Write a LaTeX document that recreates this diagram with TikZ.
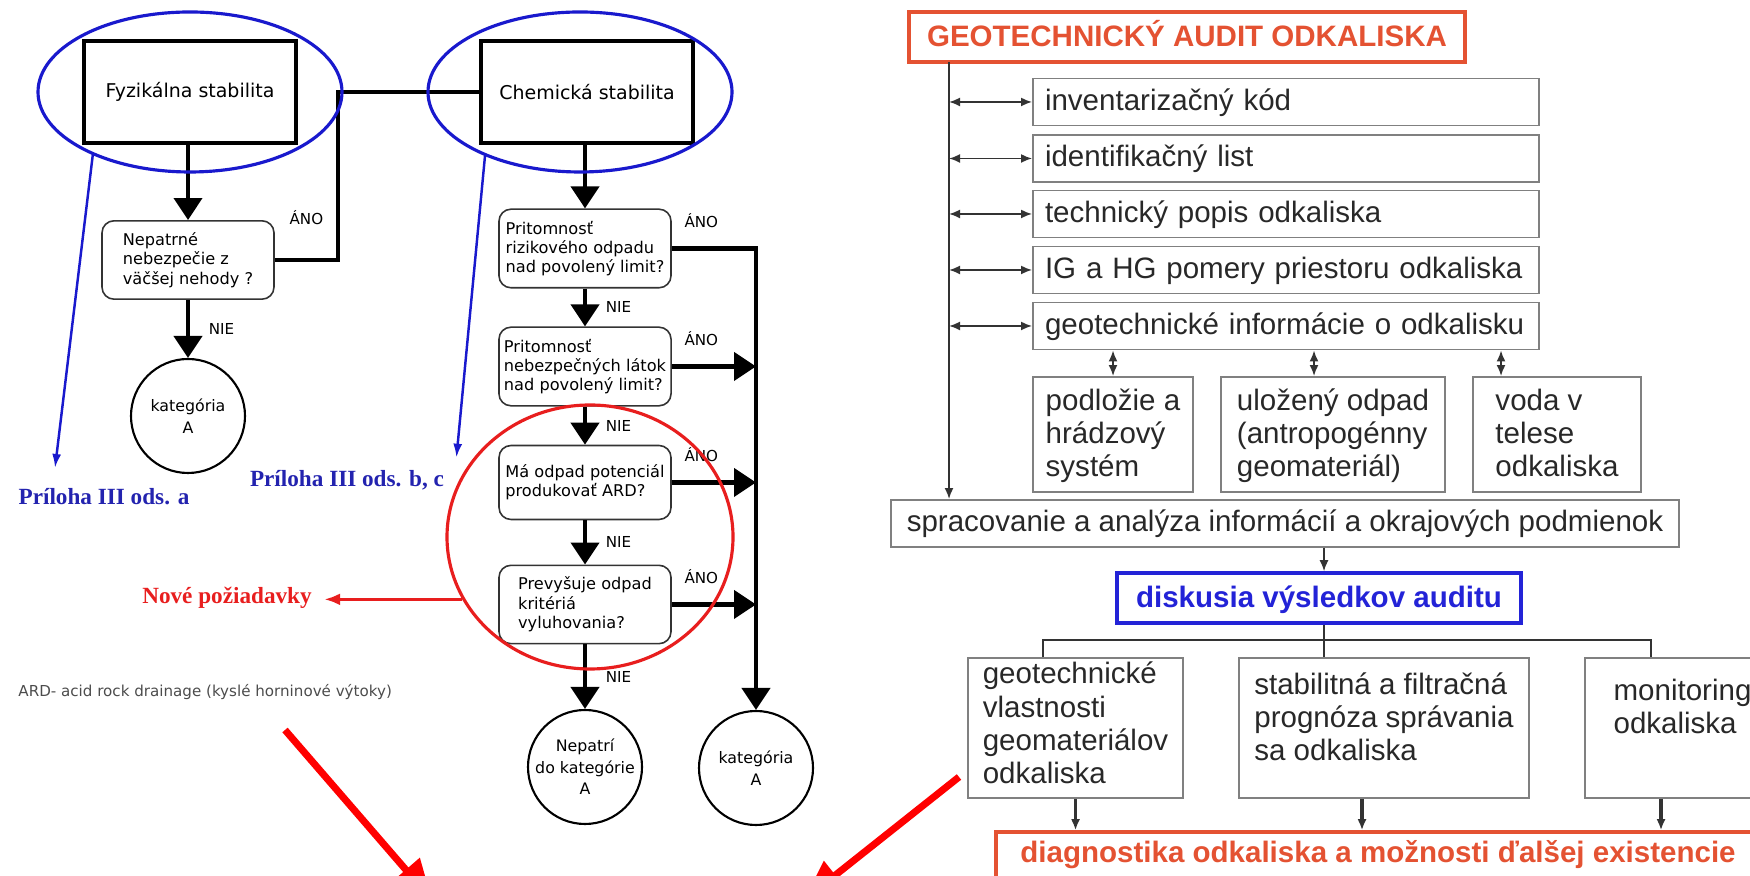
\documentclass[tikz,border=0pt]{standalone}
\usepackage{fontspec}
\setmainfont{DejaVu Sans}
\newfontfamily\auditfont{Liberation Sans}
\newfontfamily\notefont{Liberation Serif}
\usetikzlibrary{shapes,arrows.meta}

\definecolor{ovalblue}{RGB}{25,25,205}
\definecolor{noteblue}{RGB}{35,35,175}
\definecolor{auditred}{RGB}{228,82,50}
\definecolor{diskblue}{RGB}{35,35,215}
\definecolor{boxgray}{RGB}{128,128,128}
\definecolor{textgray}{RGB}{40,40,40}
\definecolor{flagred}{RGB}{232,30,30}

\begin{document}
\begin{tikzpicture}[
  stab/.style={draw, line width=1.4pt, minimum width=2.12cm, minimum height=1.02cm,
    font=\fontsize{5.4}{6.2}\selectfont},
  ask/.style={draw=black!80, line width=0.45pt, rounded corners=0.12cm, align=left,
    minimum width=1.72cm, minimum height=0.74cm, inner xsep=0.05cm,
    font=\fontsize{4.6}{5.5}\selectfont},
  kat/.style={circle, draw, line width=0.6pt, minimum size=1.14cm, inner sep=-0.06cm,
    align=center, font=\fontsize{4.5}{6.1}\selectfont},
  flow/.style={line width=1.2pt, >={Triangle[width=0.28cm,length=0.22cm]}},
  yesno/.style={font=\fontsize{4.3}{5}\selectfont},
  oval/.style={ellipse, draw=ovalblue, line width=0.9pt, minimum width=3.04cm,
    minimum height=1.60cm, inner sep=0pt},
  notelabel/.style={text=noteblue, font=\notefont\bfseries\fontsize{6.6}{7.5}\selectfont},
  pointer/.style={draw=ovalblue, line width=0.7pt, >={Latex[length=0.14cm,width=0.09cm]}},
  bigred/.style={draw=red, line width=2pt, >={Triangle[width=0.35cm,length=0.4cm]}},
  audit/.style={draw=boxgray, line width=0.55pt, text=textgray, inner ysep=0pt,
    font=\auditfont\fontsize{8.4}{9.5}\selectfont},
  itembox/.style={audit, text width=4.82cm, align=left, inner xsep=0.12cm,
    text height=0.32cm, text depth=0.15cm},
  subbox/.style={audit, align=left, text height=1.00cm, text depth=0.15cm},
  titlebox/.style={draw=auditred, line width=1pt, text=auditred, inner ysep=0pt,
    font=\auditfont\bfseries\fontsize{8.4}{9.5}\selectfont,
    text height=0.35cm, text depth=0.15cm},
  link/.style={black!80, line width=0.5pt, >={Latex[length=0.11cm,width=0.09cm]}}
]
\useasboundingbox (0,0) rectangle (17.5,-8.76);

% left: classification chart
\node (FYZ) [stab] at (1.90,-0.92) {Fyzikálna stabilita};
\node (CHEM) [stab] at (5.87,-0.92) {Chemická stabilita};
\node (NEP) [ask] at (1.88,-2.60) {Nepatrné\\nebezpečie z\\väčšej nehody ?};
\node (KATA) [kat] at (1.88,-4.16) {kategória\\A};
\node (RIZ) [ask] at (5.85,-2.485) {Pritomnosť\\rizikového odpadu\\nad povolený limit?};
\node (NEB) [ask] at (5.85,-3.665) {Pritomnosť\\nebezpečných látok\\nad povolený limit?};
\node (POT) [ask] at (5.85,-4.825) {Má odpad potenciál\\produkovať ARD?};
\node (PREV) [ask] at (5.85,-6.045) {Prevyšuje odpad\\kritériá\\vyluhovania?};
\node (NEPAT) [kat] at (5.85,-7.67) {Nepatrí\\do kategórie\\A};
\node (KATB) [kat] at (7.56,-7.68) {kategória\\A};
\coordinate (JOIN) at (3.38,-0.92);
\draw [flow,->] (NEP |- FYZ.south) to (NEP);
\draw [flow,->] (NEP) to node[yesno,right=2pt]{NIE} (KATA);
\draw [flow] (NEP.east) -- node[yesno,above=6pt]{ÁNO} (NEP.east -| JOIN) -- (JOIN) -- (CHEM.west);
\draw [flow,->] (RIZ |- CHEM.south) to (RIZ);
\draw [flow,->] (RIZ) to node[yesno,right=2pt]{NIE} (NEB);
\draw [flow,->] (NEB) to node[yesno,right=2pt]{NIE} (POT);
\draw [flow,->] (POT) to node[yesno,right=2pt]{NIE} (PREV);
\draw [flow,->] (PREV) to node[yesno,right=2pt]{NIE} (NEPAT);
\draw [flow,->] (RIZ.east) -- node[yesno,above=2pt,pos=0.35]{ÁNO} (RIZ.east -| KATB) -- (KATB);
\draw [flow,->] (NEB.east) to node[yesno,above=2pt,pos=0.35]{ÁNO} (NEB.east -| KATB);
\draw [flow,->] (POT.east) to node[yesno,above=2pt,pos=0.35]{ÁNO} (POT.east -| KATB);
\draw [flow,->] (PREV.east) to node[yesno,above=2pt,pos=0.35]{ÁNO} (PREV.east -| KATB);

\node (FYZELL) [oval] at (1.90,-0.92) {};
\node (CHEMELL) [oval] at (5.80,-0.92) {};
\node (REDELL) [oval, draw=flagred, minimum width=2.86cm, minimum height=2.64cm] at (5.90,-5.37) {};
\coordinate (PRATIP) at (0.55,-4.68);
\node (PRA) [notelabel] at (1.04,-4.97) {Príloha III ods. a};
\node (PRB) [notelabel] at (3.47,-4.80) {Príloha III ods. b, c};
\draw [pointer,->] (FYZELL.-147) to (PRATIP);
\draw [pointer,->] (CHEMELL.-146) to (PRB.north east);
\node (NOVE) [notelabel, text=flagred] at (2.27,-5.98) {Nové požiadavky};
\draw [flagred, line width=0.9pt, -{Latex[length=0.16cm,width=0.12cm]}] (REDELL.-154) -- (REDELL.-154 -| NOVE.east);
\node (ARD) [anchor=west, font=\fontsize{4.3}{5}\selectfont, text=black!70] at (0.06,-6.92) {ARD- acid rock drainage (kyslé horninové výtoky)};

\coordinate (LFROM) at (2.85,-7.30);
\coordinate (LTO) at (4.32,-9.00);
\coordinate (RFROM) at (9.59,-7.77);
\coordinate (RTO) at (8.04,-9.00);
\draw [bigred,->] (LFROM) -- (LTO);
\draw [bigred,->] (RFROM) -- (RTO);

% right: audit scheme
\node (TITLE) [titlebox, minimum width=5.56cm] at (11.87,-0.37) {GEOTECHNICKÝ AUDIT ODKALISKA};
\node (INV) [itembox] at (12.86,-1.02) {inventarizačný kód};
\node (IDL) [itembox] at (12.86,-1.585) {identifikačný list};
\node (TECH) [itembox] at (12.86,-2.14) {technický popis odkaliska};
\node (IGHG) [itembox] at (12.86,-2.70) {IG a HG pomery priestoru odkaliska};
\node (GEOI) [itembox] at (12.86,-3.26) {geotechnické informácie o odkalisku};
\node (PODL) [subbox, minimum width=1.60cm] at (11.13,-4.345) {podložie a\\hrádzový\\systém};
\node (ULOZ) [subbox, minimum width=2.24cm] at (13.33,-4.345) {uložený odpad\\(antropogénny\\geomateriál)};
\node (VODA) [subbox, minimum width=1.68cm] at (15.57,-4.345) {voda v\\telese\\odkaliska};
\node (SPRAC) [audit, minimum width=7.88cm, text height=0.32cm, text depth=0.15cm] at (12.85,-5.235) {spracovanie a analýza informácií a okrajových podmienok};
\node (DISK) [titlebox, draw=diskblue, text=diskblue, minimum width=4.04cm] at (13.19,-5.98) {diskusia výsledkov auditu};
\node (GVLAS) [subbox, minimum width=2.15cm, text height=1.26cm, text depth=0.14cm] at (10.755,-7.28) {geotechnické\\vlastnosti\\geomateriálov\\odkaliska};
\node (PROG) [subbox, minimum width=2.90cm, text height=1.03cm, text depth=0.37cm] at (13.84,-7.28) {stabilitná a filtračná\\prognóza správania\\sa odkaliska};
\node (MONI) [subbox, minimum width=1.95cm, text height=0.76cm, text depth=0.64cm] at (16.825,-7.28) {monitoring\\odkaliska};
\node (DIAG) [titlebox, minimum width=7.64cm, text height=0.31cm, text depth=0.30cm] at (13.78,-8.625) {diagnostika odkaliska a možnosti ďalšej existencie};

\coordinate (TRUNK) at (9.49,-0.62);
\coordinate (FORK) at (13.24,-6.40);
\coordinate (ULOZUP) at ([xshift=-0.19cm]ULOZ.north);
\coordinate (VODAUP) at ([xshift=-0.56cm]VODA.north);
\coordinate (GVLASUP) at ([xshift=-0.325cm]GVLAS.north);
\coordinate (MONIUP) at ([xshift=-0.315cm]MONI.north);
\coordinate (PROGDN) at ([xshift=-0.22cm]PROG.south);
\coordinate (MONIDN) at ([xshift=-0.215cm]MONI.south);
\draw [link,->] (TRUNK) -- (TRUNK |- SPRAC.north);
\draw [link,<->] (TRUNK |- INV.west) -- (INV.west);
\draw [link,<->] (TRUNK |- IDL.west) -- (IDL.west);
\draw [link,<->] (TRUNK |- TECH.west) -- (TECH.west);
\draw [link,<->] (TRUNK |- IGHG.west) -- (IGHG.west);
\draw [link,<->] (TRUNK |- GEOI.west) -- (GEOI.west);
\draw [link,<->] (PODL.north |- GEOI.south) -- (PODL.north);
\draw [link,<->] (ULOZUP |- GEOI.south) -- (ULOZUP);
\draw [link,<->] (VODAUP |- GEOI.south) -- (VODAUP);
\draw [link,->] (FORK |- SPRAC.south) -- (FORK |- DISK.north);
\draw [link] (FORK |- DISK.south) -- (FORK) -- (FORK |- PROG.north);
\draw [link] (GVLASUP) |- (FORK) -| (MONIUP);
\draw [link,line width=0.9pt,->] (GVLAS.south) -- (GVLAS.south |- DIAG.north);
\draw [link,line width=0.9pt,->] (PROGDN) -- (PROGDN |- DIAG.north);
\draw [link,line width=0.9pt,->] (MONIDN) -- (MONIDN |- DIAG.north);
\end{tikzpicture}
\end{document}
